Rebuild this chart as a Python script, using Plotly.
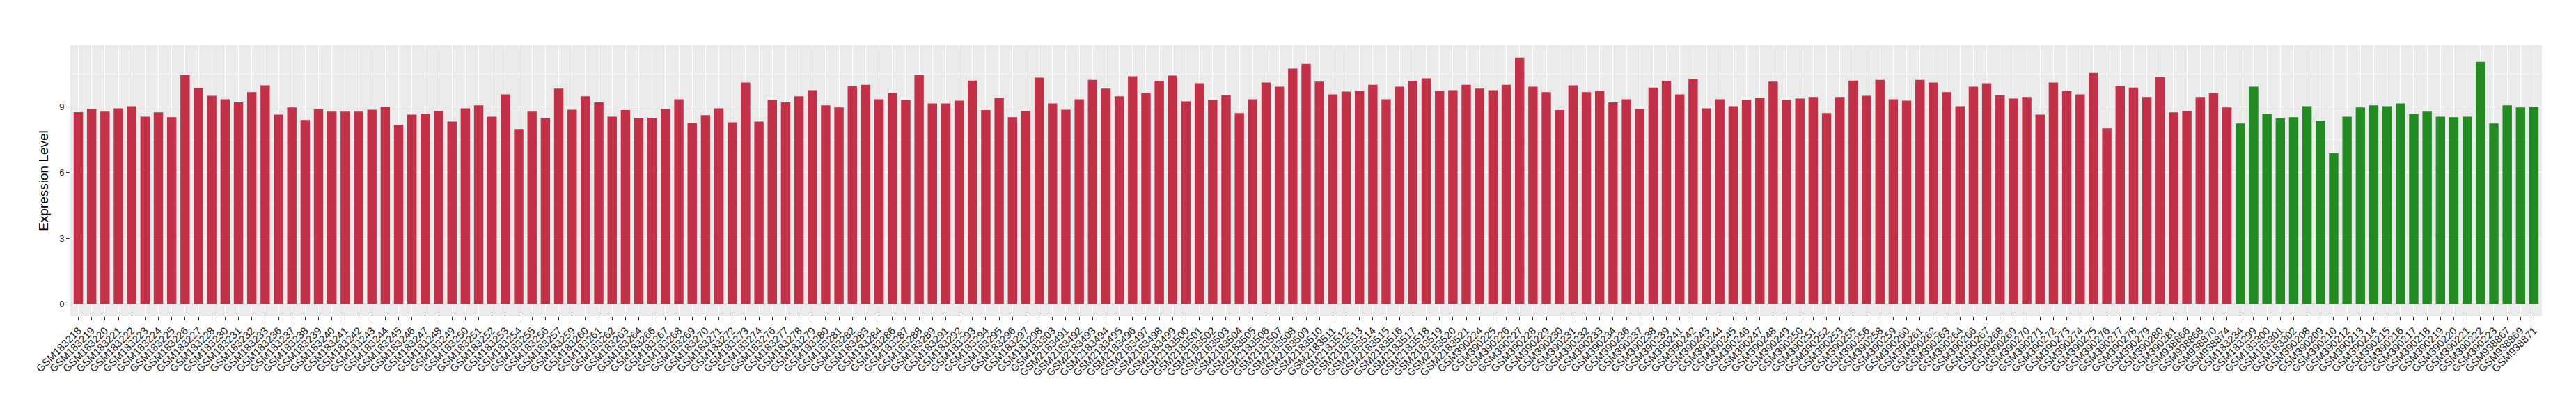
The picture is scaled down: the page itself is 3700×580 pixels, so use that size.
"""
Bar chart of expression level per GEO sample, two sample groups.
"""
import plotly.graph_objects as go

# Sample IDs in plotting order
red_samples = [
    'GSM183218', 'GSM183219', 'GSM183220', 'GSM183221', 'GSM183222', 'GSM183223',
    'GSM183224', 'GSM183225', 'GSM183226', 'GSM183227', 'GSM183228', 'GSM183230',
    'GSM183231', 'GSM183232', 'GSM183233', 'GSM183236', 'GSM183237', 'GSM183238',
    'GSM183239', 'GSM183240', 'GSM183241', 'GSM183242', 'GSM183243', 'GSM183244',
    'GSM183245', 'GSM183246', 'GSM183247', 'GSM183248', 'GSM183249', 'GSM183250',
    'GSM183251', 'GSM183252', 'GSM183253', 'GSM183254', 'GSM183255', 'GSM183256',
    'GSM183257', 'GSM183259', 'GSM183260', 'GSM183261', 'GSM183262', 'GSM183263',
    'GSM183264', 'GSM183266', 'GSM183267', 'GSM183268', 'GSM183269', 'GSM183270',
    'GSM183271', 'GSM183272', 'GSM183273', 'GSM183274', 'GSM183276', 'GSM183277',
    'GSM183278', 'GSM183279', 'GSM183280', 'GSM183281', 'GSM183282', 'GSM183283',
    'GSM183284', 'GSM183286', 'GSM183287', 'GSM183288', 'GSM183289', 'GSM183291',
    'GSM183292', 'GSM183293', 'GSM183294', 'GSM183295', 'GSM183296', 'GSM183297',
    'GSM183298', 'GSM183303',
    'GSM2183491', 'GSM2183492', 'GSM2183493', 'GSM2183494', 'GSM2183495', 'GSM2183496',
    'GSM2183497', 'GSM2183498', 'GSM2183499', 'GSM2183500', 'GSM2183501', 'GSM2183502',
    'GSM2183503', 'GSM2183504', 'GSM2183505', 'GSM2183506', 'GSM2183507', 'GSM2183508',
    'GSM2183509', 'GSM2183510', 'GSM2183511', 'GSM2183512', 'GSM2183513', 'GSM2183514',
    'GSM2183515', 'GSM2183516', 'GSM2183517', 'GSM2183518', 'GSM2183519', 'GSM2183520',
    'GSM2183521',
    'GSM390224', 'GSM390225', 'GSM390226', 'GSM390227', 'GSM390228', 'GSM390229',
    'GSM390230', 'GSM390231', 'GSM390232', 'GSM390233', 'GSM390234', 'GSM390236',
    'GSM390237', 'GSM390238', 'GSM390239', 'GSM390241', 'GSM390242', 'GSM390243',
    'GSM390244', 'GSM390245', 'GSM390246', 'GSM390247', 'GSM390248', 'GSM390249',
    'GSM390250', 'GSM390251', 'GSM390252', 'GSM390253', 'GSM390255', 'GSM390256',
    'GSM390258', 'GSM390259', 'GSM390260', 'GSM390261', 'GSM390262', 'GSM390263',
    'GSM390264', 'GSM390266', 'GSM390267', 'GSM390268', 'GSM390269', 'GSM390270',
    'GSM390271', 'GSM390272', 'GSM390273', 'GSM390274', 'GSM390275', 'GSM390276',
    'GSM390277', 'GSM390278', 'GSM390279', 'GSM390280', 'GSM390281',
    'GSM938866', 'GSM938868', 'GSM938870', 'GSM938874',
]

red_values = [
    8.76, 8.90, 8.78, 8.93, 9.03, 8.55,
    8.75, 8.53, 10.46, 9.86, 9.51, 9.35,
    9.20, 9.67, 9.98, 8.65, 8.97, 8.40,
    8.90, 8.78, 8.78, 8.78, 8.87, 9.00,
    8.18, 8.65, 8.68, 8.81, 8.33, 8.93,
    9.07, 8.55, 9.57, 7.99, 8.78, 8.47,
    9.83, 8.87, 9.48, 9.20, 8.55, 8.85,
    8.50, 8.50, 8.90, 9.35, 8.27, 8.62,
    8.93, 8.30, 10.11, 8.33, 9.32, 9.20,
    9.48, 9.76, 9.07, 8.97, 9.95, 10.01,
    9.35, 9.63, 9.32, 10.46, 9.16, 9.16,
    9.28, 10.20, 8.85, 9.41, 8.53, 8.81,
    10.33, 9.16,
    8.87, 9.35, 10.23, 9.83, 9.48, 10.40,
    9.63, 10.18, 10.43, 9.25, 10.08, 9.32,
    9.53, 8.72, 9.35, 10.11, 9.92, 10.75,
    10.96, 10.15, 9.57, 9.70, 9.73, 10.01,
    9.35, 9.92, 10.18, 10.30, 9.73, 9.76,
    10.01,
    9.83, 9.76, 10.01, 11.25, 9.92, 9.67,
    8.85, 9.98, 9.67, 9.73, 9.20, 9.35,
    8.90, 9.88, 10.18, 9.57, 10.27, 8.93,
    9.35, 9.03, 9.32, 9.41, 10.15, 9.32,
    9.38, 9.45, 8.72, 9.45, 10.20, 9.51,
    10.23, 9.35, 9.28, 10.23, 10.11, 9.67,
    9.03, 9.92, 10.08, 9.53, 9.38, 9.45,
    8.65, 10.11, 9.73, 9.57, 10.55, 8.02,
    9.95, 9.88, 9.45, 10.36, 8.75,
    8.81, 9.45, 9.63, 8.97,
]

green_samples = [
    'GSM183234', 'GSM183299', 'GSM183300', 'GSM183301', 'GSM183302',
    'GSM390208', 'GSM390209', 'GSM390210', 'GSM390212', 'GSM390213', 'GSM390214',
    'GSM390215', 'GSM390216', 'GSM390217', 'GSM390218', 'GSM390219', 'GSM390220',
    'GSM390221', 'GSM390222', 'GSM390223',
    'GSM938867', 'GSM938869', 'GSM938871',
]

green_values = [
    8.24, 9.92, 8.68, 8.47, 8.53,
    9.03, 8.37, 6.88, 8.55, 8.97, 9.07,
    9.03, 9.16, 8.68, 8.78, 8.55, 8.53,
    8.55, 11.06, 8.24,
    9.07, 8.97, 9.00,
]

y_ticks = [0, 3, 6, 9]

RED = '#C33149'
GREEN = '#228B22'

samples = red_samples + green_samples
values = red_values + green_values
colors = [RED] * len(red_samples) + [GREEN] * len(green_samples)

# ggplot-style 5% expansion on the value axis
y_max = max(values)
y_pad = y_max * 0.05

fig = go.Figure(
    go.Bar(
        x=samples,
        y=values,
        marker=dict(color=colors, line=dict(width=0)),
        width=0.7,
        showlegend=False,
    )
)

fig.update_layout(
    width=3700,
    height=580,
    margin=dict(l=93, r=57, t=57, b=134),
    paper_bgcolor='white',
    plot_bgcolor='#EBEBEB',
    font=dict(family='Liberation Sans, Arial, sans-serif', color='#1a1a1a'),
    bargap=0.3,
)

fig.update_xaxes(
    type='category',
    categoryorder='array',
    categoryarray=samples,
    range=[-0.6, len(samples) - 0.4],
    tickangle=-45,
    tickfont=dict(size=15, color='#1a1a1a'),
    ticks='outside',
    ticklen=5,
    tickwidth=1,
    tickcolor='#333333',
    showgrid=True,
    gridcolor='white',
    gridwidth=1.4,
    zeroline=False,
    showline=False,
)

fig.update_yaxes(
    range=[-y_pad, y_max + y_pad],
    tickvals=y_ticks,
    tickfont=dict(size=13, color='#333333'),
    ticks='outside',
    ticklen=5,
    tickwidth=1,
    tickcolor='#333333',
    showgrid=True,
    gridcolor='white',
    gridwidth=1.4,
    minor=dict(dtick=1.5, tick0=0, showgrid=True, gridcolor='#F5F5F5', gridwidth=0.8),
    zeroline=False,
    showline=False,
    title=dict(text='Expression Level', font=dict(size=19, color='black'), standoff=10),
)

fig.write_html('out.html')
